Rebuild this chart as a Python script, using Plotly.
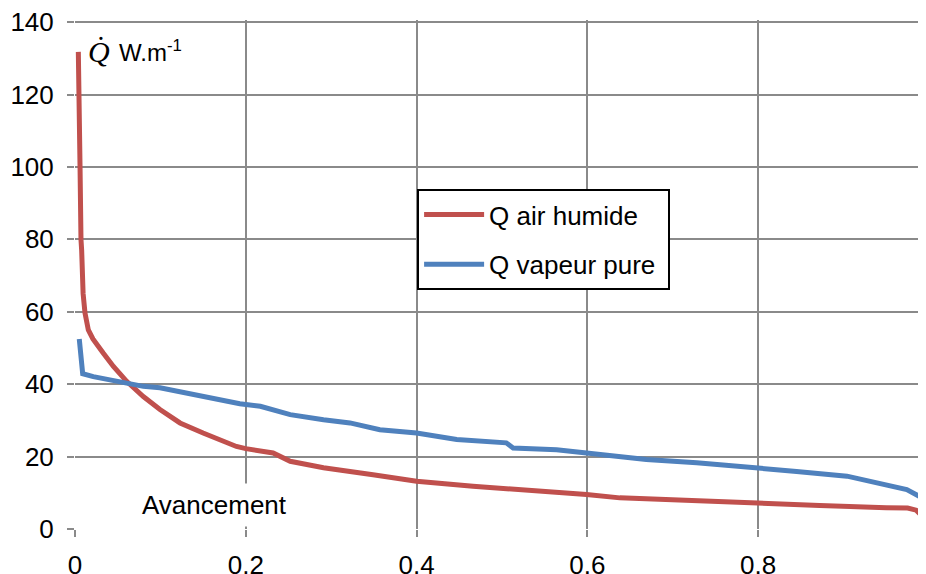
import plotly.graph_objects as go

# Q air humide (red)
x_air = [0.0039, 0.005, 0.0059, 0.007, 0.0078, 0.0095, 0.0117, 0.0156, 0.021, 0.033, 0.045,
         0.0605, 0.08, 0.0995, 0.123, 0.150, 0.189, 0.200, 0.232, 0.252, 0.291, 0.349, 0.400,
         0.466, 0.525, 0.599, 0.638, 0.689, 0.747, 0.798, 0.872, 0.950, 0.975, 0.985, 0.990, 0.994]
y_air = [131.8, 120, 100, 80, 77, 65, 59.7, 55, 52.5, 48.6, 44.9,
         40.8, 36.6, 33.0, 29.3, 26.5, 22.8, 22.2, 21.0, 18.7, 16.9, 15.0, 13.2,
         11.8, 10.9, 9.5, 8.6, 8.1, 7.7, 7.0, 6.5, 5.9, 5.8, 5.2, 4.0, 1.0]

# Q vapeur pure (blue)
x_vap = [0.005, 0.009, 0.0214, 0.041, 0.0605, 0.08, 0.0995, 0.139, 0.178, 0.193, 0.217,
         0.252, 0.291, 0.322, 0.357, 0.400, 0.447, 0.505, 0.513, 0.564, 0.599, 0.630,
         0.669, 0.728, 0.786, 0.845, 0.904, 0.943, 0.974, 0.989, 0.995]
y_vap = [52.5, 42.9, 42.1, 41.2, 40.3, 39.4, 39.0, 37.1, 35.3, 34.6, 33.9,
         31.6, 30.2, 29.3, 27.4, 26.5, 24.7, 23.8, 22.4, 21.9, 21.0, 20.1,
         19.2, 18.3, 17.2, 15.9, 14.6, 12.7, 10.9, 9.0, 6.3]

x_tickvals = [0, 0.2, 0.4, 0.6, 0.8]
x_ticktext = ["0", "0.2", "0.4", "0.6", "0.8"]
y_tickvals = [0, 20, 40, 60, 80, 100, 120, 140]

FONT = "Liberation Sans, Arial, sans-serif"
GRID = "#8a8a8a"
FS = 26

fig = go.Figure()
fig.add_trace(go.Scatter(x=x_air, y=y_air, mode="lines", name="Q air humide",
                         legendgroup="a",
                         line=dict(color="#C0504D", width=5)))
fig.add_trace(go.Scatter(x=x_vap, y=y_vap, mode="lines", name="Q vapeur pure\u00a0",
                         legendgroup="b",
                         line=dict(color="#4F81BD", width=5)))

# page body has an 8px margin: figure sized to fit the 926x574 window
fig.update_layout(
    width=918, height=566,
    margin=dict(l=67, r=0, t=12, b=44.5),
    paper_bgcolor="white", plot_bgcolor="white",
    font=dict(family=FONT, size=FS, color="black"),
    showlegend=True,
    legend=dict(x=0.402, y=0.668, xanchor="left", yanchor="top",
                bgcolor="white", bordercolor="black", borderwidth=2,
                font=dict(family=FONT, size=FS, color="black"),
                itemwidth=60,
                tracegroupgap=13, traceorder="grouped"),
    xaxis=dict(range=[0, 0.9965], tickvals=x_tickvals, ticktext=x_ticktext,
               showgrid=True, gridcolor=GRID, gridwidth=2,
               zeroline=False, showline=False, automargin=False,
               ticks="outside", ticklen=7, tickwidth=2, tickcolor=GRID,
               ticklabelstandoff=6, ticklabeloverflow="allow",
               tickfont=dict(family=FONT, size=FS, color="black")),
    yaxis=dict(range=[0, 140.6], tickvals=y_tickvals,
               showgrid=True, gridcolor=GRID, gridwidth=2,
               zeroline=False, showline=False, automargin=False,
               ticks="outside", ticklen=7, tickwidth=2, tickcolor=GRID,
               ticklabelstandoff=8, ticklabeloverflow="allow",
               tickfont=dict(family=FONT, size=FS, color="black")),
    annotations=[
        dict(x=0.1636, y=6.6, xref="x", yref="y", text="Avancement",
             showarrow=False, bgcolor="white", borderpad=6,
             font=dict(family=FONT, size=FS, color="black")),
        dict(x=0.0125, y=132.0, xref="x", yref="y", text="<i>Q\u0307</i>",
             xanchor="left", showarrow=False,
             font=dict(family="Liberation Serif, serif", size=30, color="black")),
        dict(x=0.049, y=132.0, xref="x", yref="y", text="W.m<sup>-1</sup>",
             xanchor="left", showarrow=False,
             font=dict(family=FONT, size=24, color="black")),
    ],
)

fig.write_html("out.html")
